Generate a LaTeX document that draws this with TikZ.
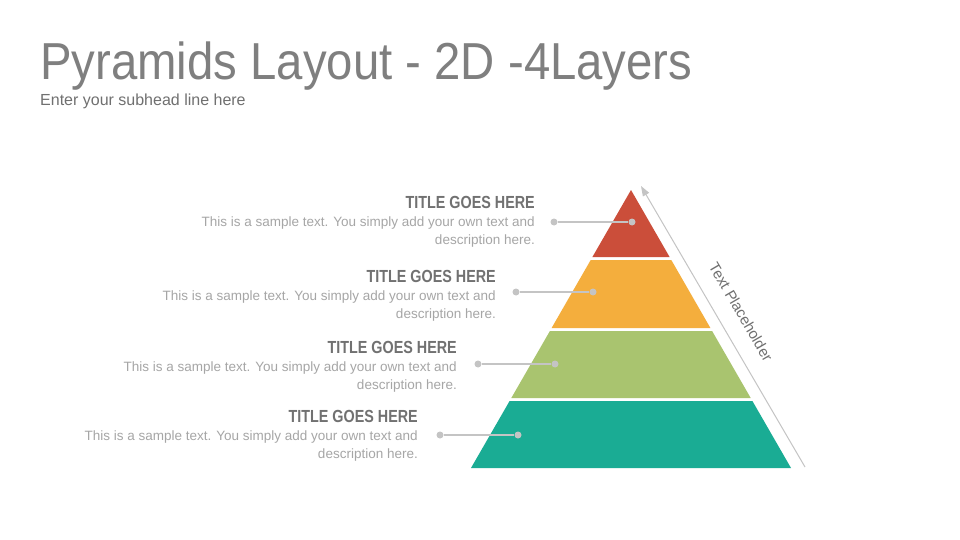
\documentclass[tikz,border=0pt]{standalone}
\usepackage{fontspec}
\setmainfont{Liberation Sans}
\newfontfamily\titlef[FakeStretch=0.91]{Liberation Sans}
\newfontfamily\bodyf{Liberation Sans}
\newfontfamily\headf[FakeStretch=0.82]{Liberation Sans}
\usetikzlibrary{arrows.meta}
\definecolor{cred}{HTML}{CB4E3A}
\definecolor{corange}{HTML}{F4AE3D}
\definecolor{cgreen}{HTML}{A9C46F}
\definecolor{cteal}{HTML}{1AAC94}
\definecolor{ctitle}{HTML}{7F7F7F}
\definecolor{csub}{HTML}{707070}
\definecolor{chead}{HTML}{717171}
\definecolor{cbody}{HTML}{A6A6A6}
\definecolor{cline}{HTML}{C4C4C4}
\tikzset{
  layerhead/.style={anchor=base east, inner sep=0pt, text=chead, font=\headf\bfseries\fontsize{17.5}{20}\selectfont},
  layerbody/.style={anchor=north east, inner sep=0pt, align=right, text=cbody, font=\bodyf\fontsize{13.5}{18}\selectfont},
  dotc/.style={circle, fill=cline, inner sep=0pt, minimum size=7pt},
  leader/.style={draw=cline, line width=1.6pt},
}
\begin{document}
\begin{tikzpicture}[x=1pt,y=-1pt]
\useasboundingbox (0,0) rectangle (960,540);
\fill[white] (0,0) rectangle (960,540);
% title
\node[anchor=base west, inner sep=0pt, text=ctitle, font=\titlef\fontsize{52}{60}\selectfont] (title) at (40,80) {Pyramids Layout - 2D -4Layers};
\node[anchor=base west, inner sep=0pt, text=csub, font=\bodyf\fontsize{16}{18}\selectfont] (sub) at (40,106) {Enter your subhead line here};
% pyramid layers
\fill[cred] (631,190) -- (669.6,257) -- (592.4,257) -- cycle;
\fill[corange] (590.7,260) -- (671.3,260) -- (710.4,328) -- (551.6,328) -- cycle;
\fill[cgreen] (549.9,331) -- (712.1,331) -- (750.7,398) -- (511.3,398) -- cycle;
\fill[cteal] (509.6,401) -- (752.4,401) -- (791,468) -- (471,468) -- cycle;
% side arrow
\coordinate (abot) at (805,467);
\coordinate (atop) at (641,186);
\draw[draw=cline, line width=1pt, -{Triangle[length=10pt,width=7pt]}] (abot) -- (atop);
\node[rotate=-59.7, text=csub, font=\bodyf\fontsize{15}{16}\selectfont, inner sep=0pt] (tp) at (741,312) {Text Placeholder};
% leaders
\foreach \n/\xa/\xb/\y in {1/554/632/222, 2/516/593/292, 3/478/555/364, 4/440/518/435}{
  \node[dotc] (l\n a) at (\xa,\y) {};
  \node[dotc] (l\n b) at (\xb,\y) {};
  \draw[leader] (l\n a) -- (l\n b);
}
% texts
\foreach \n/\x/\y in {1/535/208, 2/496/282.5, 3/457/353, 4/418/422}{
  \node[layerhead] (h\n) at (\x,\y) {TITLE GOES HERE};
  \node[layerbody] (b\n) at (\x,\y+8.5) {This is a sample text. You simply add your own text and\\description here.};
}
\end{tikzpicture}
\end{document}
